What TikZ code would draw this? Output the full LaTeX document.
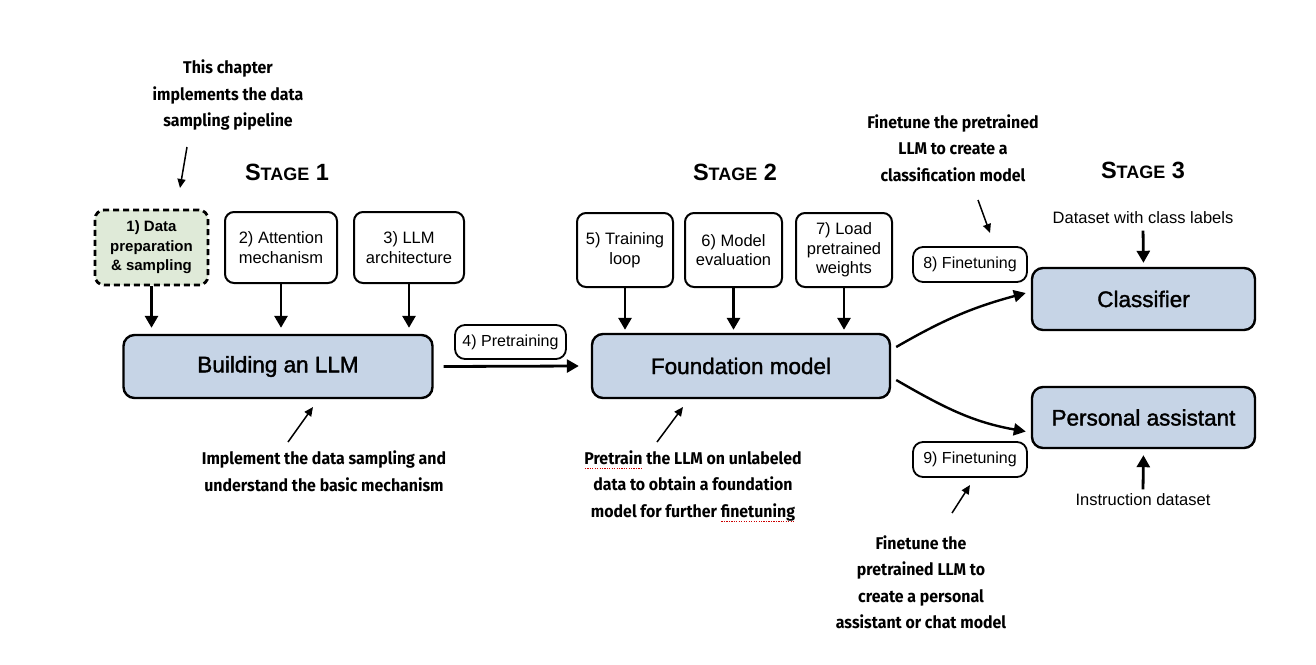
\documentclass[tikz,border=0pt]{standalone}
\usepackage{fontspec}
\setmainfont{Liberation Sans}
\newfontfamily\annfont{Fira Sans}[FakeStretch=0.935]
\newfontfamily\medfont{Liberation Sans}[FakeBold=1.6]
\usetikzlibrary{arrows.meta,calc}
\definecolor{boxblue}{HTML}{C6D4E6}
\definecolor{boxgreen}{HTML}{DFEAD8}
\newcommand\fs[2]{\fontsize{#1}{#2}\selectfont}
\newcommand\stg[1]{{\bfseries\fs{23.5}{26}S\fs{18}{20}TAGE\fs{23.5}{26} #1}}
\newsavebox\rulbox
\newcommand\redul[1]{\sbox\rulbox{#1}\rlap{\raisebox{-4pt}{\textcolor{red!80!black}{\hbox to \wd\rulbox{\xleaders\hbox to 2.4pt{\hss\rule{1.2pt}{0.9pt}\hss}\hfill}}}}\usebox\rulbox}
\tikzset{
 smallbox/.style={draw, line width=2pt, rounded corners=9pt, fill=white, align=center, inner sep=2pt, font=\fs{16.5}{19.5}},
 bigbox/.style={draw, line width=2.4pt, rounded corners=11pt, fill=boxblue, font=\medfont\fs{22.5}{26}},
 pill/.style={draw, line width=1.8pt, rounded corners=10pt, fill=white, font=\fs{16}{19}, inner sep=2pt},
 ann/.style={align=center, font=\annfont\bfseries\fs{17}{26.5}},
 plainlbl/.style={font=\fs{16.5}{19}},
 thickarrow/.style={line width=2.8pt, -{Triangle[width=13pt,length=12pt]}},
 thinarrow/.style={line width=1.5pt, -{Triangle[width=8pt,length=9pt]}},
 curvearrow/.style={line width=2.4pt, -{Triangle[width=12pt,length=12pt]}},
}
\begin{document}
\begin{tikzpicture}[x=1pt,y=-1pt]
\fill[white] (0,0) rectangle (1316,664);
\useasboundingbox (0,0) rectangle (1316,664);

% Stage headings
\node (s1) at (287,172) {\stg{1}};
\node (s2) at (735,172) {\stg{2}};
\node (s3) at (1143,170) {\stg{3}};

% Stage 1
\node[smallbox, fill=boxgreen, dash pattern=on 6pt off 4pt, line width=2.8pt, minimum width=113, minimum height=75, font=\bfseries\fs{15}{19.5}] (b1) at (151.5,247.5) {1) Data\\preparation\\\& sampling};
\node[smallbox, minimum width=112, minimum height=71] (b2) at (281,247.5) {2) Attention\\mechanism};
\node[smallbox, minimum width=110, minimum height=71] (b3) at (409,247.5) {3) LLM\\architecture};
\node[bigbox, minimum width=309, minimum height=63] (build) at (278,366.5) {Building an LLM};

% Stage 2
\node[smallbox, minimum width=96, minimum height=74] (b5) at (625,250) {5) Training\\loop};
\node[smallbox, minimum width=97, minimum height=74] (b6) at (733.5,250) {6) Model\\evaluation};
\node[smallbox, minimum width=96, minimum height=74] (b7) at (844,250) {7) Load\\pretrained\\weights};
\node[bigbox, minimum width=298, minimum height=64] (found) at (741,366) {Foundation model};
\node[pill, minimum width=111, minimum height=34] (pre) at (510.5,342) {4) Pretraining};

% Stage 3
\node[bigbox, minimum width=223, minimum height=62] (cls) at (1143.5,299) {Classifier};
\node[bigbox, minimum width=223, minimum height=61] (pa) at (1143.5,417.5) {Personal assistant};
\node[pill, minimum width=114, minimum height=35] (f8) at (970,264.5) {8) Finetuning};
\node[pill, minimum width=114, minimum height=35] (f9) at (970,459.5) {9) Finetuning};
\node[plainlbl] (d1) at (1143,218) {Dataset with class labels};
\node[plainlbl] (d2) at (1143,500) {Instruction dataset};

% Annotations
\node[ann] (t1) at (228,95) {This chapter\\implements the data\\sampling pipeline};
\node[ann] (t2) at (324,471) {Implement the data sampling and\\understand the basic mechanism};
\node[ann] (t3) at (693,486) {\redul{Pretrain} the LLM on unlabeled\\data to obtain a foundation\\model for further \redul{finetuning}};
\node[ann] (t4) at (953,148) {Finetune the pretrained\\LLM to create a\\classification model};
\node[ann] (t5) at (921,582) {Finetune the\\pretrained LLM to\\create a personal\\assistant or chat model};

\coordinate (a1s) at (187,147); \coordinate (a1e) at (180,188);
\coordinate (a2s) at (288,442); \coordinate (a2e) at (313,407);
\coordinate (a3s) at (657,442); \coordinate (a3e) at (683,407);
\coordinate (a4s) at (978,200); \coordinate (a4e) at (990,233);
\coordinate (a5s) at (952,513); \coordinate (a5e) at (970,485);
\draw[thinarrow] (a1s) -- (a1e);
\draw[thinarrow] (a2s) -- (a2e);
\draw[thinarrow] (a3s) -- (a3e);
\draw[thinarrow] (a4s) -- (a4e);
\draw[thinarrow] (a5s) -- (a5e);

% Thick arrows into the big boxes
\foreach \b in {b1,b2,b3} \draw[thickarrow, shorten >=6pt] (\b.south) -- (\b.south |- build.north);
\foreach \b in {b5,b6,b7} \draw[thickarrow, shorten >=3pt] (\b.south) -- (\b.south |- found.north);
\draw[thickarrow] ($(build.east)+(10,0)$) -- ($(found.west)+(-12,0)$);
\draw[thickarrow, shorten <=3pt, shorten >=4pt] (d1.south) -- (cls.north);
\draw[thickarrow, shorten <=1pt, shorten >=6pt] (d2.north) -- (pa.south);

% Curved arrows
\draw[curvearrow] ($(found.east)+(5,-19)$) to[out=30,in=195] ($(cls.west)+(-5,-6)$);
\draw[curvearrow] ($(found.east)+(5,14)$) to[out=-30,in=170] ($(pa.west)+(-5,14)$);
\end{tikzpicture}
\end{document}
